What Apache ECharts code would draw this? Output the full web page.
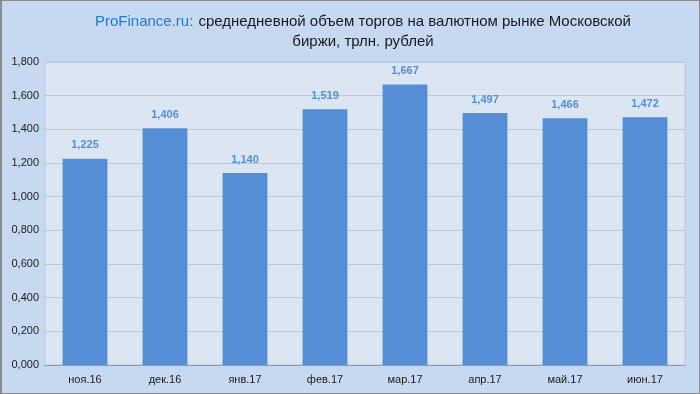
<!DOCTYPE html>
<html><head><meta charset="utf-8">
<script src="https://cdn.jsdelivr.net/npm/echarts@6/dist/echarts.min.js"></script>
<style>html,body{margin:0;padding:0;background:#c6d9f1;}#c{width:700px;height:394px;box-sizing:border-box;border:1px solid #8c8c8c;border-left:2px solid #8c8c8c;}</style>
</head><body><div id="c"></div>
<script>
const categories = ['ноя.16','дек.16','янв.17','фев.17','мар.17','апр.17','май.17','июн.17'];
const values = [1.225, 1.406, 1.140, 1.519, 1.667, 1.497, 1.466, 1.472];
const fmt = v => Number(v).toFixed(3).replace('.', ',');
const chart = echarts.init(document.getElementById('c'));
chart.setOption({
  backgroundColor: '#c6d9f1',
  textStyle: {fontFamily: 'Liberation Sans, Arial, sans-serif'},
  title: {
    text: '{a|ProFinance.ru:} {b|среднедневной объем торгов на валютном рынке Московской}\n{b|биржи, трлн. рублей}',
    left: 356, top: 6, textAlign: 'center',
    textStyle: {
      fontWeight: 'normal',
      rich: {
        a: {color: '#1f7ad0', fontSize: 15, fontWeight: 'normal', fontFamily: 'Liberation Sans', lineHeight: 20},
        b: {color: '#1a1a1a', fontSize: 15, fontWeight: 'normal', fontFamily: 'Liberation Sans', lineHeight: 20}
      }
    }
  },
  grid: {left: 43, right: 14, top: 61, bottom: 28, show: true, backgroundColor: '#dce6f2', borderColor: '#b9c9dc', borderWidth: 1},
  xAxis: {
    type: 'category', data: categories,
    axisLine: {lineStyle: {color: '#8f9cad'}},
    axisTick: {show: false},
    axisLabel: {color: '#1a1a1a', fontSize: 11, margin: 9, fontFamily: 'Liberation Sans'}
  },
  yAxis: {
    type: 'value', min: 0, max: 1.8, interval: 0.2,
    axisLine: {show: false}, axisTick: {show: false},
    splitLine: {lineStyle: {color: '#b9c9dc'}},
    axisLabel: {color: '#1a1a1a', fontSize: 11, margin: 6, formatter: fmt, fontFamily: 'Liberation Sans'}
  },
  series: [{
    type: 'bar', data: values, barWidth: '56%',
    itemStyle: {color: '#558ed5'},
    label: {show: true, position: 'top', distance: 8, color: '#558ed5', fontSize: 11, fontWeight: 'bold', formatter: p => fmt(p.value), fontFamily: 'Liberation Sans'}
  }],
  animation: false
});
</script></body></html>
